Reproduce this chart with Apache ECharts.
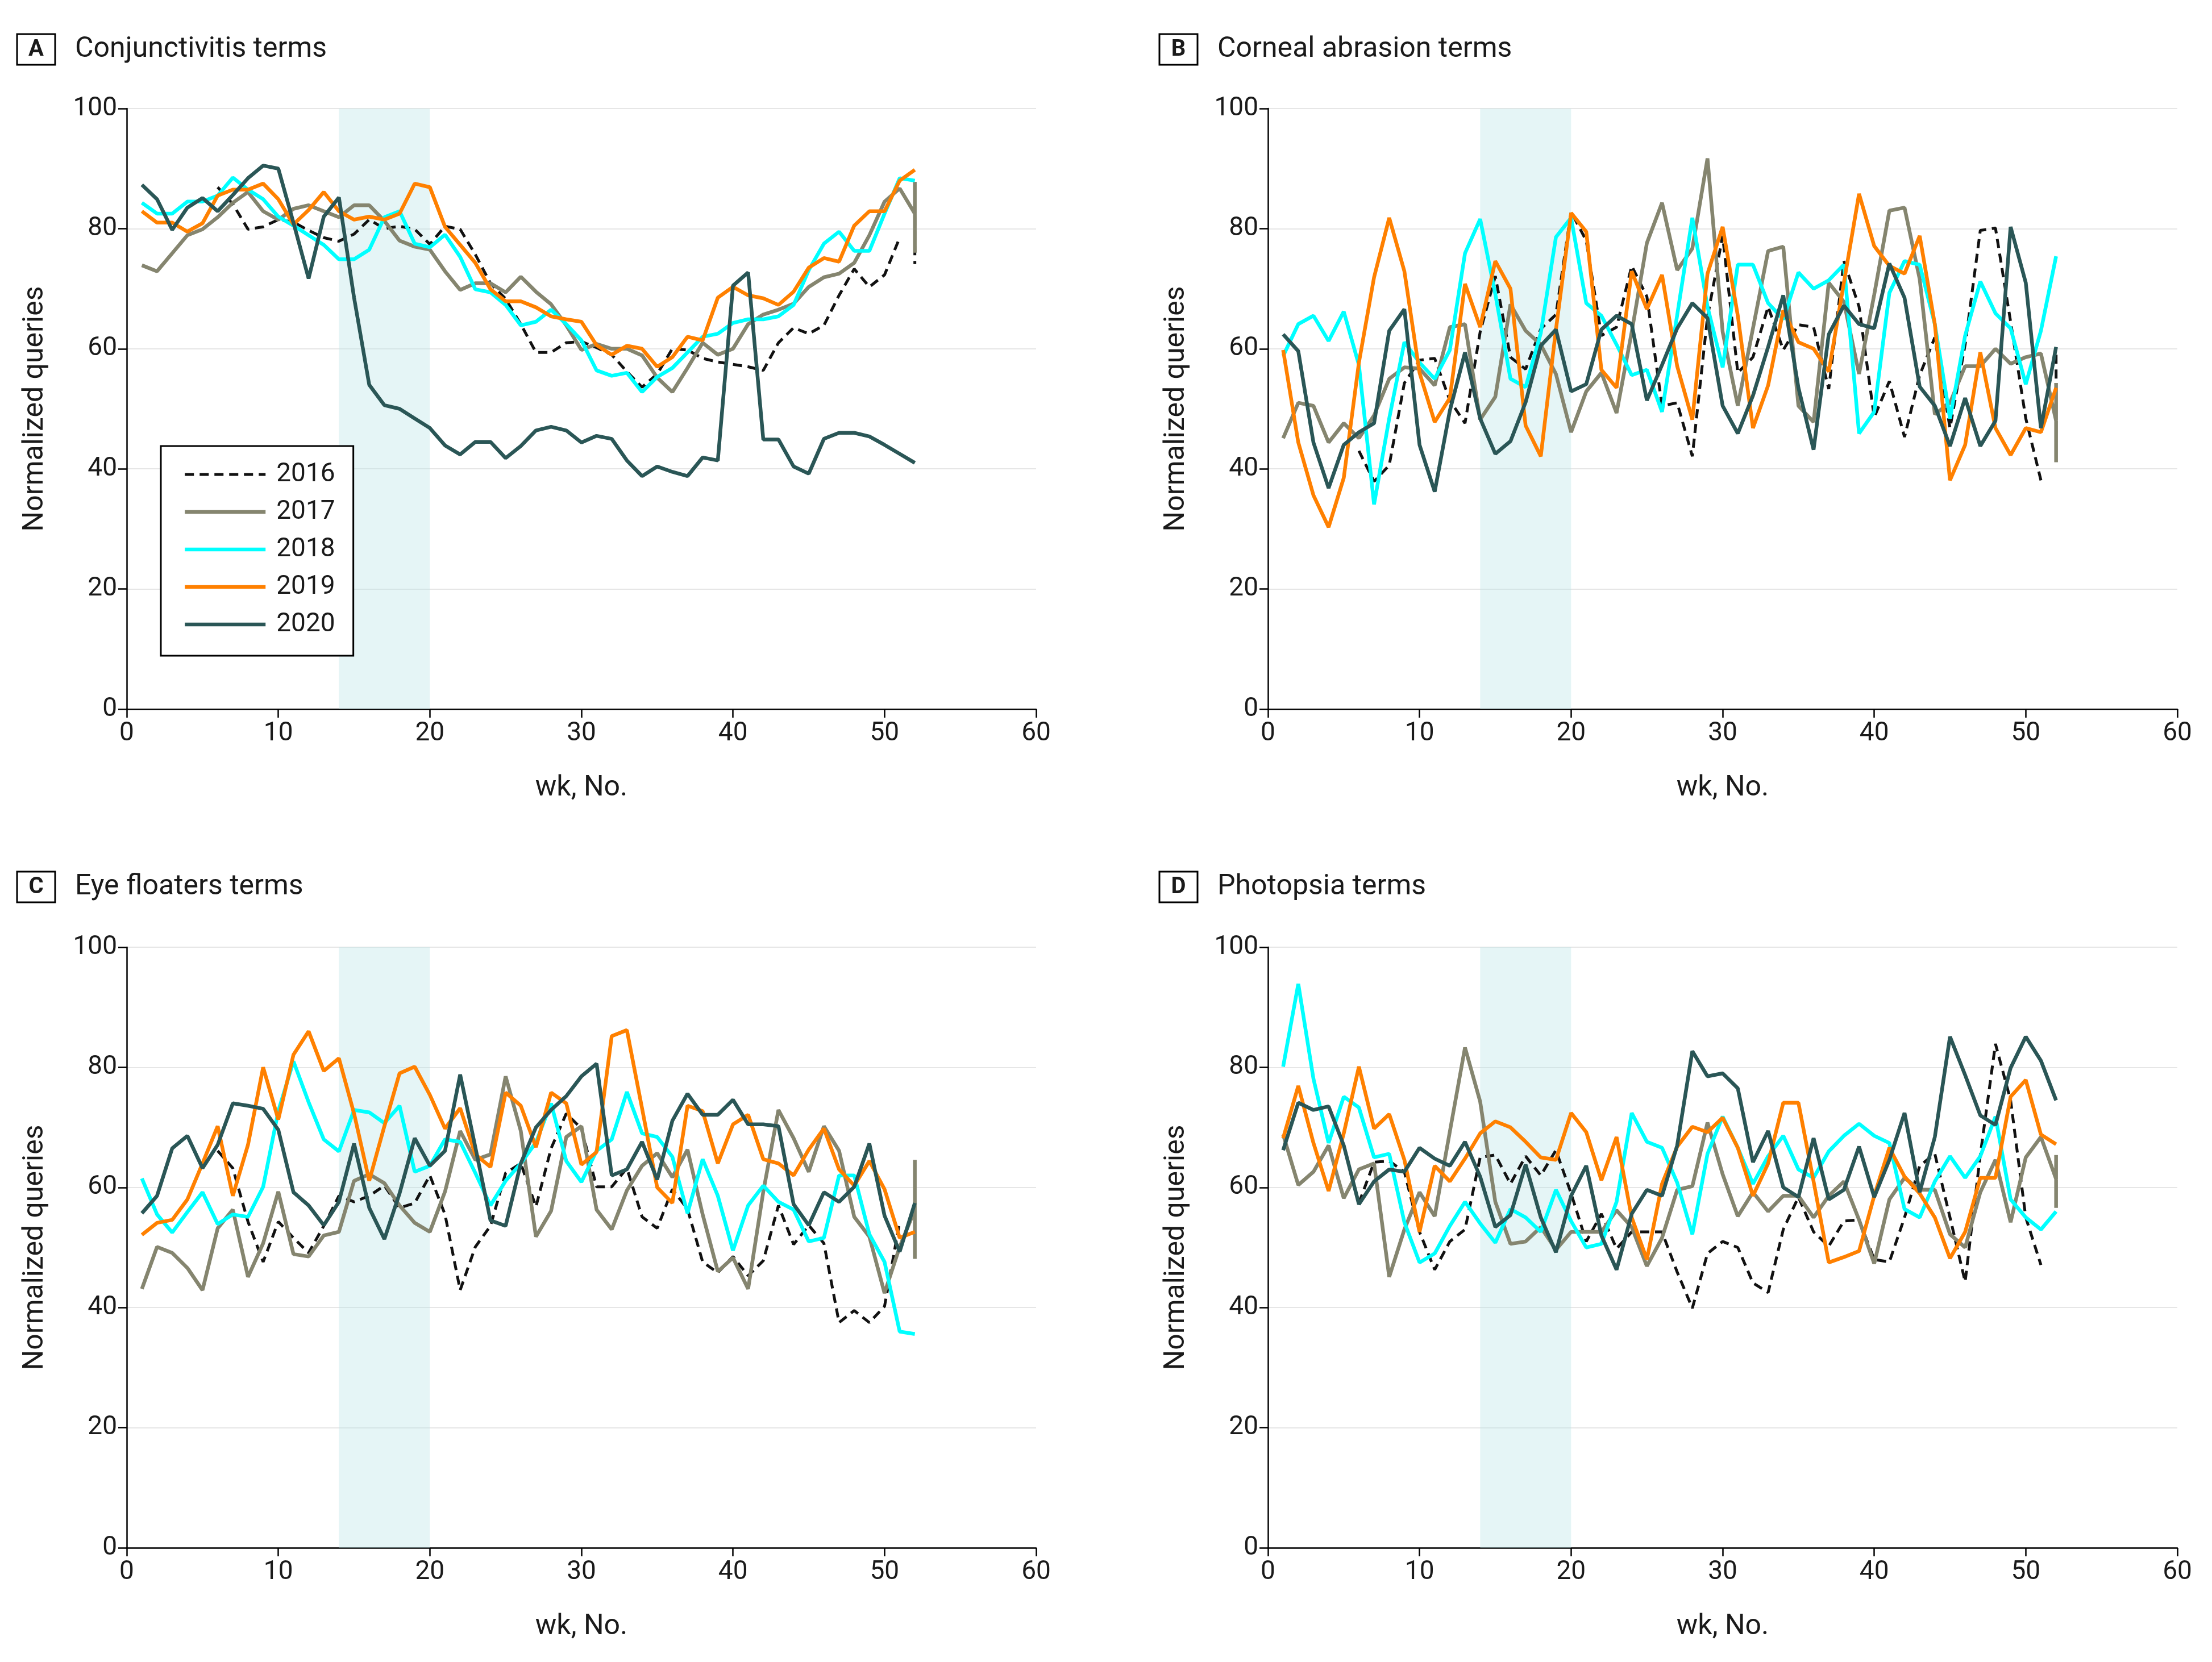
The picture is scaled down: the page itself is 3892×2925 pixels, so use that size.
<!DOCTYPE html>
<html>
<head>
<meta charset="utf-8">
<title>Normalized eye-term queries by week</title>
<script src="https://cdn.jsdelivr.net/npm/echarts@6/dist/echarts.min.js"></script>
<style>
  html, body { margin: 0; padding: 0; background: #fff; }
  #chart { width: 3892px; height: 2925px; }
</style>
</head>
<body>
<div id="chart"></div>
<script>
const years = ['2016', '2017', '2018', '2019', '2020'];
const panelLetters = ['A', 'B', 'C', 'D'];
const panelTitles = ['Conjunctivitis terms', 'Corneal abrasion terms', 'Eye floaters terms', 'Photopsia terms'];
const shadeWeeks = [14, 20];
const firstWeek2016 = 6; // 2016 series starts at week 6

// A - conjunctivitis
const conj2016 = [86.9, 84.1, 79.9, 80.3, 81.5, 81.1, 79.7, 78.5, 77.9, 79.1, 81.5, 80.0, 80.4, 79.9, 77.4, 80.4, 79.9, 75.7, 70.9, 68.3, 64.1, 59.4, 59.4, 61.0, 61.2, 60.2, 59.0, 56.2, 53.6, 55.8, 60.0, 59.8, 58.4, 57.8, 57.4, 57.0, 56.4, 61.0, 63.5, 62.5, 63.9, 68.9, 73.3, 70.3, 72.3, 78.5];
const conj2017 = [73.9, 72.9, 75.9, 78.9, 79.9, 81.9, 84.3, 86.1, 82.9, 81.5, 83.3, 83.9, 82.9, 81.9, 83.9, 83.9, 81.3, 78.0, 77.0, 76.5, 72.9, 69.8, 70.9, 70.9, 69.4, 72.0, 69.5, 67.4, 63.9, 59.8, 60.8, 60.0, 60.0, 58.9, 55.2, 52.8, 56.8, 61.0, 59.0, 60.0, 64.1, 65.7, 66.5, 67.5, 70.3, 71.9, 72.5, 74.3, 78.9, 84.5, 86.7, 82.5];
const conj2018 = [84.3, 82.5, 82.5, 84.5, 84.5, 85.5, 88.5, 86.5, 84.9, 82.0, 80.5, 78.9, 77.3, 74.9, 74.9, 76.5, 81.9, 82.9, 77.5, 76.9, 79.0, 75.3, 69.9, 69.4, 67.3, 63.9, 64.5, 66.5, 64.1, 61.4, 56.4, 55.5, 56.0, 52.8, 55.3, 56.8, 59.4, 62.0, 62.5, 64.3, 64.9, 64.9, 65.4, 67.3, 73.1, 77.5, 79.5, 76.3, 76.3, 82.5, 88.4, 88.0];
const conj2019 = [82.9, 81.0, 81.0, 79.5, 80.9, 85.5, 86.5, 86.5, 87.5, 84.9, 80.7, 83.1, 86.1, 82.9, 81.5, 82.0, 81.5, 82.5, 87.5, 86.9, 80.3, 77.3, 74.3, 69.9, 67.9, 67.9, 66.9, 65.4, 64.9, 64.5, 60.6, 59.0, 60.5, 60.0, 57.0, 58.6, 62.0, 61.4, 68.5, 70.3, 68.9, 68.4, 67.3, 69.5, 73.5, 75.1, 74.5, 80.5, 82.9, 82.9, 88.0, 89.8];
const conj2020 = [87.3, 84.9, 79.8, 83.5, 85.1, 82.9, 85.6, 88.4, 90.5, 90.0, 81.0, 71.7, 82.0, 85.2, 68.5, 54.0, 50.6, 50.0, 48.4, 46.8, 43.9, 42.4, 44.5, 44.5, 41.8, 43.8, 46.4, 47.0, 46.4, 44.4, 45.5, 45.0, 41.4, 38.8, 40.4, 39.5, 38.8, 41.9, 41.4, 70.5, 72.7, 44.9, 44.9, 40.4, 39.2, 45.0, 46.0, 46.0, 45.4, 44.0, 42.5, 41.0];
const conjTail2016 = ['-', 82.0, 74.1];
const conjTail2017 = [87.8, 76.0];

// B - corneal abrasion
const abra2016 = [43.0, 37.9, 40.6, 54.3, 58.1, 58.4, 51.4, 47.6, 62.8, 72.1, 58.6, 56.6, 63.3, 65.7, 82.8, 78.0, 62.2, 63.6, 73.8, 68.7, 50.5, 51.0, 42.1, 65.3, 78.8, 56.0, 58.6, 67.0, 59.8, 64.0, 63.6, 53.3, 74.6, 67.0, 48.6, 54.6, 45.3, 55.6, 61.9, 46.8, 60.7, 79.7, 80.1, 64.5, 48.4, 38.1];
const abra2017 = [45.1, 51.0, 50.5, 44.4, 47.6, 45.1, 48.9, 55.0, 56.9, 56.7, 53.9, 63.6, 64.1, 48.2, 52.0, 67.4, 63.0, 60.7, 55.8, 46.1, 52.9, 56.0, 49.3, 62.8, 77.6, 84.3, 73.1, 76.7, 91.7, 62.8, 50.5, 63.4, 76.3, 77.0, 50.5, 47.8, 71.0, 67.8, 55.8, 69.0, 83.0, 83.5, 71.6, 49.1, 51.0, 57.1, 57.1, 60.0, 57.5, 58.6, 59.2, 48.0];
const abra2018 = [58.8, 64.1, 65.5, 61.3, 66.2, 57.3, 34.1, 48.4, 61.1, 57.7, 55.0, 59.8, 75.9, 81.6, 69.1, 55.0, 53.6, 62.6, 78.6, 81.8, 67.6, 65.5, 60.7, 55.6, 56.5, 49.5, 65.6, 81.8, 67.0, 56.9, 74.0, 74.0, 67.6, 64.9, 72.7, 70.0, 71.4, 74.0, 45.9, 49.5, 69.3, 74.6, 74.0, 64.1, 48.4, 62.2, 71.2, 65.9, 63.4, 54.1, 63.0, 75.4];
const abra2019 = [59.8, 44.4, 35.6, 30.3, 38.5, 57.7, 71.9, 81.8, 72.9, 56.0, 47.8, 51.8, 70.8, 63.6, 74.6, 70.0, 47.2, 42.1, 63.2, 82.6, 79.5, 56.5, 53.5, 72.9, 66.6, 72.3, 57.1, 48.2, 72.5, 80.3, 65.5, 46.8, 53.9, 66.4, 61.1, 60.0, 56.2, 71.0, 85.8, 77.1, 73.8, 72.5, 78.8, 64.1, 38.1, 44.0, 59.4, 46.8, 42.3, 46.8, 46.1, 53.5];
const abra2020 = [62.4, 59.6, 44.4, 36.8, 44.0, 46.1, 47.6, 63.0, 66.6, 44.0, 36.2, 49.7, 59.4, 48.4, 42.5, 44.6, 51.1, 60.5, 63.2, 52.9, 54.1, 63.2, 65.5, 64.1, 51.4, 57.3, 63.4, 67.6, 65.1, 50.5, 45.9, 52.2, 60.3, 68.9, 53.5, 43.2, 62.4, 67.2, 64.1, 63.4, 74.2, 68.5, 53.7, 50.5, 43.8, 51.8, 43.8, 48.0, 80.3, 71.0, 46.8, 60.3];
const abraTail2016 = ['-', 59.0, 54.8];
const abraTail2017 = [54.3, 41.1];

// C - eye floaters
const float2016 = [66.1, 63.2, 54.3, 47.6, 54.3, 51.6, 49.1, 53.6, 58.6, 57.6, 58.6, 60.3, 56.6, 57.4, 62.0, 55.5, 42.9, 50.1, 53.6, 62.4, 64.0, 56.8, 66.5, 72.3, 69.8, 60.1, 60.1, 63.2, 55.1, 53.2, 59.7, 56.4, 47.6, 45.8, 48.5, 45.3, 47.8, 57.0, 50.5, 53.7, 50.7, 37.5, 39.5, 37.5, 40.2, 54.3];
const float2017 = [43.1, 50.1, 49.1, 46.6, 42.9, 53.2, 56.3, 45.1, 50.7, 59.3, 48.9, 48.5, 52.0, 52.6, 61.1, 62.2, 60.7, 57.0, 54.1, 52.6, 59.3, 69.4, 64.6, 65.5, 78.5, 69.4, 51.8, 56.1, 68.4, 70.2, 56.3, 53.0, 59.5, 63.6, 65.7, 61.7, 66.3, 55.5, 46.0, 48.3, 43.1, 59.3, 72.9, 68.2, 62.6, 70.2, 66.1, 55.1, 51.8, 42.4, 50.1, 56.3];
const float2018 = [61.5, 55.5, 52.5, 55.9, 59.2, 53.9, 55.5, 55.1, 60.1, 72.7, 81.0, 74.2, 68.0, 66.0, 72.9, 72.5, 70.7, 73.6, 62.6, 63.6, 68.0, 67.6, 62.4, 57.0, 61.1, 64.0, 67.5, 74.0, 64.4, 60.9, 66.1, 68.0, 75.9, 69.0, 68.4, 65.1, 55.7, 64.7, 58.6, 49.5, 57.0, 60.3, 57.6, 56.3, 51.0, 51.6, 62.0, 62.0, 52.2, 47.6, 36.0, 35.6];
const float2019 = [52.1, 54.1, 54.6, 58.0, 64.0, 70.2, 58.6, 67.1, 80.0, 71.3, 82.1, 86.0, 79.4, 81.5, 72.3, 61.1, 70.2, 79.0, 80.1, 75.4, 69.8, 73.2, 65.5, 63.4, 75.8, 73.6, 66.7, 75.8, 74.0, 63.8, 65.9, 85.2, 86.2, 73.2, 60.0, 57.4, 73.6, 72.7, 64.0, 70.5, 72.1, 64.7, 64.0, 62.0, 66.3, 69.8, 63.0, 60.3, 64.4, 59.7, 51.6, 52.6];
const float2020 = [55.7, 58.6, 66.5, 68.6, 63.2, 67.1, 74.0, 73.6, 73.1, 69.6, 59.2, 57.0, 53.7, 57.6, 67.3, 56.6, 51.4, 59.0, 68.2, 63.6, 66.1, 78.8, 66.7, 54.5, 53.6, 64.0, 70.0, 72.9, 75.2, 78.5, 80.6, 62.0, 63.0, 67.6, 61.3, 71.1, 75.6, 72.1, 72.1, 74.6, 70.5, 70.5, 70.2, 57.2, 53.7, 59.2, 57.6, 60.1, 67.3, 55.3, 49.3, 57.4];
const floatTail2017 = [64.6, 48.1];

// D - photopsia
const photo2016 = [57.4, 64.2, 64.4, 62.6, 52.6, 46.3, 51.0, 53.0, 65.0, 65.4, 60.6, 65.2, 62.0, 66.2, 59.0, 51.0, 55.6, 49.8, 52.6, 52.6, 52.6, 45.9, 39.9, 49.0, 51.0, 50.0, 44.1, 42.5, 53.0, 58.4, 52.6, 50.2, 54.4, 54.6, 48.0, 47.6, 55.0, 63.6, 65.6, 55.0, 44.3, 65.4, 83.9, 74.5, 55.0, 47.1];
const photo2017 = [68.8, 60.4, 62.6, 67.0, 58.2, 63.0, 64.0, 45.1, 53.0, 59.2, 55.2, 69.3, 83.3, 74.3, 57.6, 50.6, 51.0, 53.4, 49.6, 52.6, 52.6, 52.6, 56.2, 53.4, 46.9, 51.6, 59.6, 60.2, 70.8, 62.2, 55.2, 59.2, 56.0, 58.6, 58.6, 55.0, 58.6, 61.0, 54.6, 47.3, 58.0, 61.6, 59.6, 59.6, 52.2, 50.0, 59.2, 64.6, 54.2, 65.0, 68.4, 61.4];
const photo2018 = [80.1, 93.9, 78.1, 67.4, 75.1, 73.3, 65.0, 65.6, 54.2, 47.5, 49.0, 53.6, 57.6, 54.0, 50.8, 56.4, 55.0, 52.6, 59.6, 54.4, 50.0, 50.6, 57.6, 72.4, 67.6, 66.6, 60.8, 52.2, 65.6, 71.8, 66.6, 60.6, 65.2, 68.6, 63.0, 61.6, 66.0, 68.6, 70.6, 68.6, 67.4, 56.4, 55.0, 61.0, 65.2, 61.6, 65.2, 71.8, 58.0, 55.0, 53.0, 56.0];
const photo2019 = [68.2, 76.9, 67.4, 59.4, 69.0, 80.1, 69.8, 72.2, 64.6, 52.6, 63.6, 61.0, 64.8, 69.0, 71.0, 70.0, 67.6, 65.0, 64.6, 72.4, 69.2, 61.2, 68.4, 55.0, 48.0, 60.6, 66.8, 70.1, 69.2, 71.6, 66.6, 58.6, 64.0, 74.1, 74.1, 61.0, 47.5, 48.4, 49.4, 58.6, 66.6, 61.8, 59.0, 55.0, 48.2, 52.6, 61.6, 61.6, 75.1, 77.9, 68.8, 67.2];
const photo2020 = [66.2, 74.1, 72.9, 73.5, 67.0, 57.2, 61.0, 63.0, 62.6, 66.6, 64.8, 63.6, 67.6, 61.8, 53.4, 55.4, 63.8, 55.0, 49.2, 58.6, 63.6, 52.0, 46.3, 55.6, 59.6, 58.6, 67.0, 82.7, 78.5, 79.0, 76.5, 64.2, 69.4, 60.0, 58.4, 68.2, 58.0, 59.6, 66.8, 58.4, 64.6, 72.4, 59.2, 68.4, 85.1, 78.7, 72.0, 70.4, 79.9, 85.1, 81.1, 74.5];
const photoTail2017 = [65.4, 56.6];

const panels = [
  { values: [conj2016, conj2017, conj2018, conj2019, conj2020], tails: [conjTail2016, conjTail2017] },
  { values: [abra2016, abra2017, abra2018, abra2019, abra2020], tails: [abraTail2016, abraTail2017] },
  { values: [float2016, float2017, float2018, float2019, float2020], tails: [[], floatTail2017] },
  { values: [photo2016, photo2017, photo2018, photo2019, photo2020], tails: [[], photoTail2017] },
];

const FONT = 'Roboto, "Noto Sans", sans-serif';
const TEXT = '#1a1a1a';
const yearColors = ['#111111', '#85856f', '#00ffff', '#ff8000', '#2a5656'];

// plot rectangles [left, top]
const gridPos = [[223, 191], [2231, 191], [223, 1667], [2231, 1667]];
const titlePos = [[30, 60], [2040, 60], [30, 1534], [2040, 1534]];

function lineStyleFor(k) {
  return k === 0
    ? { color: yearColors[k], width: 5, type: [16, 10] }
    : { color: yearColors[k], width: 6.5 };
}

function toPoints(values, start, tail) {
  const pts = values.map((v, i) => [start + i, v]);
  (tail || []).forEach((v) => pts.push([52, v]));
  return pts;
}

const grids = [], xAxes = [], yAxes = [], series = [], graphics = [];

panels.forEach((panel, p) => {
  grids.push({ left: gridPos[p][0], top: gridPos[p][1], width: 1600, height: 1057, outerBoundsMode: 'none' });
  xAxes.push({
    type: 'value', gridIndex: p, min: 0, max: 60, interval: 10,
    name: 'wk, No.', nameLocation: 'middle', nameGap: 114,
    nameTextStyle: { fontSize: 50, fontFamily: FONT, color: TEXT },
    axisLine: { show: true, lineStyle: { color: '#000', width: 2.5 } },
    axisTick: { show: true, length: 15, lineStyle: { color: '#000', width: 2.5 } },
    axisLabel: { fontSize: 46, fontFamily: FONT, color: TEXT, margin: 20 },
    splitLine: { show: false },
  });
  yAxes.push({
    type: 'value', gridIndex: p, min: 0, max: 100, interval: 20,
    name: 'Normalized queries', nameLocation: 'middle', nameGap: 136,
    nameTextStyle: { fontSize: 50, fontFamily: FONT, color: TEXT },
    axisLine: { show: true, lineStyle: { color: '#000', width: 2.5 } },
    axisTick: { show: true, length: 15, lineStyle: { color: '#000', width: 2.5 } },
    axisLabel: { fontSize: 46, fontFamily: FONT, color: TEXT, margin: 17 },
    splitLine: { show: true, lineStyle: { color: '#e6e6e6', width: 2 } },
  });

  years.forEach((yr, k) => {
    const start = k === 0 ? firstWeek2016 : 1;
    const s = {
      name: yr, type: 'line', xAxisIndex: p, yAxisIndex: p,
      data: toPoints(panel.values[k], start, panel.tails[k]),
      symbol: 'none', showSymbol: false, connectNulls: false,
      lineStyle: lineStyleFor(k),
      itemStyle: { color: yearColors[k] },
      emphasis: { disabled: true },
    };
    if (k === 0) {
      s.markArea = {
        silent: true,
        itemStyle: { color: 'rgba(180, 225, 230, 0.35)' },
        data: [[{ xAxis: shadeWeeks[0] }, { xAxis: shadeWeeks[1] }]],
      };
    }
    series.push(s);
  });

  // panel letter box and title
  const [bx, by] = titlePos[p];
  graphics.push({
    type: 'rect', shape: { x: bx, y: by, width: 67, height: 54 },
    style: { fill: '#fff', stroke: '#000', lineWidth: 3 },
  });
  graphics.push({
    type: 'text', x: bx + 33.5, y: by + 28,
    style: { text: panelLetters[p], fontSize: 40, fontWeight: 'bold', fontFamily: FONT, fill: TEXT,
      align: 'center', verticalAlign: 'middle', textAlign: 'center', textVerticalAlign: 'middle' },
  });
  graphics.push({
    type: 'text', x: bx + 102, y: by + 27,
    style: { text: panelTitles[p], fontSize: 50, fontFamily: FONT, fill: TEXT,
      align: 'left', verticalAlign: 'middle', textAlign: 'left', textVerticalAlign: 'middle' },
  });
});

const chart = echarts.init(document.getElementById('chart'), null, { renderer: 'canvas' });
chart.setOption({
  animation: false,
  backgroundColor: '#fff',
  grid: grids,
  xAxis: xAxes,
  yAxis: yAxes,
  legend: {
    data: years.map((yr, k) => ({ name: yr, lineStyle: lineStyleFor(k), itemStyle: { opacity: 0 } })),
    orient: 'vertical', left: 283, top: 785,
    itemWidth: 142, itemHeight: 20, itemGap: 20,
    padding: [27, 32, 32, 39],
    borderColor: '#000', borderWidth: 3, backgroundColor: '#fff',
    selectedMode: false,
    itemStyle: { opacity: 0 },
    lineStyle: { width: 6.5 },
    textStyle: { fontSize: 46, fontFamily: FONT, color: TEXT, padding: [0, 0, 0, 14] },
  },
  graphic: graphics,
  series: series,
});
</script>
</body>
</html>
